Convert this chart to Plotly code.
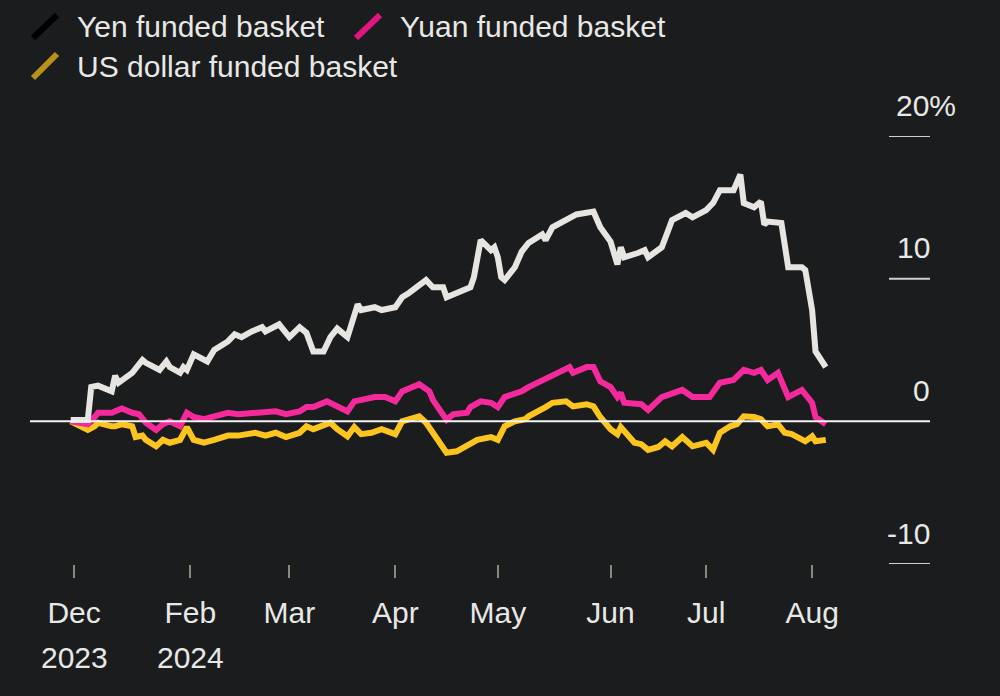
import plotly.graph_objects as go

# ---------------- data ----------------
yen_dates = [
    "2023-12-28", "2024-01-02", "2024-01-03", "2024-01-05", "2024-01-09", "2024-01-10",
    "2024-01-11", "2024-01-15", "2024-01-18", "2024-01-19", "2024-01-23", "2024-01-25",
    "2024-01-26", "2024-01-29", "2024-01-30", "2024-01-31", "2024-02-02", "2024-02-06",
    "2024-02-08", "2024-02-12", "2024-02-14", "2024-02-16", "2024-02-19", "2024-02-22",
    "2024-02-23", "2024-02-27", "2024-03-01", "2024-03-04", "2024-03-06", "2024-03-08",
    "2024-03-11", "2024-03-13", "2024-03-15", "2024-03-18", "2024-03-21", "2024-03-22",
    "2024-03-26", "2024-03-28", "2024-04-01", "2024-04-03", "2024-04-05", "2024-04-08",
    "2024-04-10", "2024-04-12", "2024-04-15", "2024-04-16", "2024-04-19", "2024-04-23",
    "2024-04-24", "2024-04-26", "2024-04-29", "2024-04-30", "2024-05-01", "2024-05-02",
    "2024-05-03", "2024-05-06", "2024-05-08", "2024-05-10", "2024-05-14", "2024-05-15",
    "2024-05-17", "2024-05-21", "2024-05-24", "2024-05-29", "2024-05-31", "2024-06-03",
    "2024-06-05", "2024-06-06", "2024-06-07", "2024-06-11", "2024-06-13", "2024-06-14",
    "2024-06-18", "2024-06-21", "2024-06-25", "2024-06-27", "2024-07-01", "2024-07-03",
    "2024-07-05", "2024-07-09", "2024-07-11", "2024-07-12", "2024-07-15", "2024-07-17",
    "2024-07-18", "2024-07-19", "2024-07-23", "2024-07-25", "2024-07-29", "2024-07-30",
    "2024-08-01", "2024-08-02", "2024-08-05",
]
yen_values = [
    0.1, 0.1, 2.4, 2.5, 2.1, 3.2,
    2.7, 3.4, 4.3, 4.1, 3.6, 4.2,
    3.8, 3.4, 3.8, 3.6, 4.7, 4.2,
    5.0, 5.6, 6.1, 5.9, 6.3, 6.6,
    6.3, 6.8, 5.9, 6.6, 6.2, 4.9,
    4.9, 5.9, 6.5, 5.9, 8.2, 7.8,
    8.0, 7.8, 8.0, 8.7, 9.0, 9.6,
    9.9, 9.4, 9.4, 8.7, 9.0, 9.4,
    10.1, 12.7, 12.0, 12.2, 11.5, 10.1,
    9.9, 10.8, 11.9, 12.5, 13.1, 12.7,
    13.6, 14.1, 14.5, 14.7, 13.6, 12.6,
    11.0, 12.2, 11.5, 11.8, 12.0, 11.5,
    12.2, 14.1, 14.6, 14.3, 14.8, 15.3,
    16.2, 16.2, 17.3, 15.3, 15.0, 15.4,
    13.8, 14.0, 13.9, 10.8, 10.8, 10.6,
    7.8, 4.9, 3.8,
]

yuan_dates = [
    "2023-12-28", "2024-01-02", "2024-01-04", "2024-01-05", "2024-01-09", "2024-01-11",
    "2024-01-12", "2024-01-15", "2024-01-17", "2024-01-19", "2024-01-22", "2024-01-24",
    "2024-01-26", "2024-01-29", "2024-01-31", "2024-02-02", "2024-02-05", "2024-02-08",
    "2024-02-12", "2024-02-15", "2024-02-20", "2024-02-23", "2024-02-26", "2024-02-29",
    "2024-03-04", "2024-03-06", "2024-03-08", "2024-03-12", "2024-03-15", "2024-03-18",
    "2024-03-20", "2024-03-22", "2024-03-26", "2024-03-29", "2024-04-01", "2024-04-03",
    "2024-04-08", "2024-04-11", "2024-04-12", "2024-04-16", "2024-04-18", "2024-04-22",
    "2024-04-23", "2024-04-26", "2024-04-29", "2024-05-01", "2024-05-03", "2024-05-08",
    "2024-05-10", "2024-05-16", "2024-05-20", "2024-05-22", "2024-05-23", "2024-05-27",
    "2024-05-29", "2024-05-31", "2024-06-03", "2024-06-05", "2024-06-06", "2024-06-07",
    "2024-06-12", "2024-06-14", "2024-06-18", "2024-06-24", "2024-06-27", "2024-07-02",
    "2024-07-05", "2024-07-09", "2024-07-12", "2024-07-15", "2024-07-17", "2024-07-19",
    "2024-07-22", "2024-07-25", "2024-07-29", "2024-07-31", "2024-08-01", "2024-08-02",
    "2024-08-05",
]
yuan_values = [
    0.0, -0.2, 0.3, 0.6, 0.6, 0.8,
    0.9, 0.6, 0.5, -0.1, -0.6, -0.2,
    0.0, -0.35, 0.6, 0.3, 0.15, 0.35,
    0.6, 0.5, 0.6, 0.6, 0.7, 0.5,
    0.7, 1.0, 1.0, 1.4, 1.0, 0.7,
    1.4, 1.5, 1.7, 1.7, 1.4, 2.1,
    2.6, 2.1, 1.5, 0.1, 0.5, 0.6,
    1.0, 1.4, 1.3, 1.0, 1.7, 2.1,
    2.4, 3.1, 3.6, 3.8, 3.4, 3.8,
    3.8, 2.8, 2.4, 1.7, 2.0, 1.3,
    1.2, 0.8, 1.7, 2.2, 1.7, 1.7,
    2.7, 2.9, 3.6, 3.4, 3.6, 2.9,
    3.4, 1.7, 2.2, 1.7, 1.3, 0.3,
    -0.2,
]

usd_dates = [
    "2023-12-28", "2024-01-02", "2024-01-04", "2024-01-05", "2024-01-09", "2024-01-10",
    "2024-01-12", "2024-01-15", "2024-01-16", "2024-01-18", "2024-01-19", "2024-01-22",
    "2024-01-24", "2024-01-26", "2024-01-29", "2024-01-31", "2024-02-02", "2024-02-05",
    "2024-02-08", "2024-02-12", "2024-02-15", "2024-02-20", "2024-02-23", "2024-02-26",
    "2024-02-29", "2024-03-04", "2024-03-06", "2024-03-08", "2024-03-13", "2024-03-15",
    "2024-03-18", "2024-03-20", "2024-03-22", "2024-03-25", "2024-03-28", "2024-04-01",
    "2024-04-03", "2024-04-08", "2024-04-10", "2024-04-12", "2024-04-16", "2024-04-19",
    "2024-04-22", "2024-04-25", "2024-04-29", "2024-05-01", "2024-05-03", "2024-05-06",
    "2024-05-09", "2024-05-10", "2024-05-15", "2024-05-17", "2024-05-21", "2024-05-23",
    "2024-05-27", "2024-05-29", "2024-05-31", "2024-06-03", "2024-06-05", "2024-06-06",
    "2024-06-10", "2024-06-12", "2024-06-14", "2024-06-17", "2024-06-19", "2024-06-21",
    "2024-06-24", "2024-06-27", "2024-07-01", "2024-07-03", "2024-07-05", "2024-07-08",
    "2024-07-10", "2024-07-12", "2024-07-15", "2024-07-17", "2024-07-19", "2024-07-22",
    "2024-07-24", "2024-07-26", "2024-07-30", "2024-08-01", "2024-08-02", "2024-08-05",
]
usd_values = [
    0.0, -0.6, -0.35, -0.1, -0.35, -0.35,
    -0.2, -0.35, -1.1, -1.0, -1.3, -1.75,
    -1.3, -1.5, -1.3, -0.4, -1.3, -1.5,
    -1.3, -1.0, -1.0, -0.8, -1.0, -0.8,
    -1.1, -0.8, -0.35, -0.55, -0.1, -0.55,
    -1.05, -0.4, -0.9, -0.8, -0.55, -0.9,
    0.0, 0.35, -0.1, -0.8, -2.2, -2.1,
    -1.75, -1.3, -1.1, -1.3, -0.35, 0.0,
    0.15, 0.35, 1.0, 1.3, 1.4, 1.05,
    1.2, 1.05, 0.3, -0.55, -0.9, -0.4,
    -1.5, -1.6, -2.0, -1.8, -1.4, -1.75,
    -1.1, -1.75, -1.5, -2.0, -0.8, -0.35,
    -0.2, 0.35, 0.3, 0.15, -0.35, -0.2,
    -0.8, -0.9, -1.4, -1.05, -1.4, -1.3,
]

series_names = ["Yen funded basket", "Yuan funded basket", "US dollar funded basket"]

x_tick_vals = ["2023-12-29", "2024-02-01", "2024-03-01", "2024-04-01",
               "2024-05-01", "2024-06-03", "2024-07-01", "2024-08-01"]
x_tick_text = ["Dec", "Feb", "Mar", "Apr", "May", "Jun", "Jul", "Aug"]
year_tick_vals = ["2023-12-29", "2024-02-01"]
year_tick_text = ["2023", "2024"]

y_tick_vals = [20, 10, 0, -10]
y_tick_text = ["20%", "10", "0", "-10"]

# ---------------- style ----------------
BG = "#1b1c1e"
TXT = "#e8e8e6"
WHITE_LINE = "#e6e5e1"
PINK = "#f42a9c"
YELLOW = "#fcc41f"
ICON_COLORS = ["#000000", "#e0167f", "#b8911c"]
FONT = "Liberation Sans, Arial, Helvetica, sans-serif"
FS = 30
LW = 6

W, H = 1000, 696
ML, MR, MT, MB = 30, 70, 136, 132
PW, PH = W - ML - MR, H - MT - MB


def pxx(px):
    return (px - ML) / PW


def pxy(py):
    return (H - MB - py) / PH


fig = go.Figure()
fig.add_trace(go.Scatter(x=usd_dates, y=usd_values, mode="lines", name=series_names[2],
                         line=dict(color=YELLOW, width=LW), showlegend=False))
fig.add_trace(go.Scatter(x=yuan_dates, y=yuan_values, mode="lines", name=series_names[1],
                         line=dict(color=PINK, width=LW), showlegend=False))
fig.add_trace(go.Scatter(x=yen_dates, y=yen_values, mode="lines", name=series_names[0],
                         line=dict(color=WHITE_LINE, width=LW), showlegend=False))

annotations = []
shapes = []

# zero line, drawn above the series
shapes.append(dict(type="line", xref="paper", yref="y", x0=0, x1=1, y0=0, y1=0,
                   line=dict(color="#f2f2f2", width=2), layer="above"))

# short tick lines at the right-hand side for the other y ticks
for v in y_tick_vals:
    if v != 0:
        shapes.append(dict(type="line", xref="paper", yref="y", x0=pxx(889), x1=1,
                           y0=v, y1=v, line=dict(color="#cfcfcd", width=2), layer="above"))

# y tick labels (sitting above the short tick lines)
for v, t in zip(y_tick_vals, y_tick_text):
    if t.endswith("%"):
        annotations.append(dict(x=pxx(894), xref="paper", y=v, yref="y", text=t,
                                showarrow=False, xanchor="left", yanchor="middle",
                                yshift=31, font=dict(size=FS, color=TXT, family=FONT)))
    else:
        annotations.append(dict(x=1, xref="paper", y=v, yref="y", text=t,
                                showarrow=False, xanchor="right", yanchor="middle",
                                yshift=31, xshift=2, font=dict(size=FS, color=TXT, family=FONT)))

# year line under the month labels
for v, t in zip(year_tick_vals, year_tick_text):
    annotations.append(dict(x=v, xref="x", y=pxy(657), yref="paper", text=t,
                            showarrow=False, xanchor="center", yanchor="middle",
                            font=dict(size=FS, color=TXT, family=FONT)))

# custom legend with slanted swatches
legend_items = [
    (series_names[0], ICON_COLORS[0], 33, 57, 38, 15, 75, 27),
    (series_names[1], ICON_COLORS[1], 356, 380, 38, 15, 398, 27),
    (series_names[2], ICON_COLORS[2], 33, 57, 78, 54, 75, 67),
]
for name, col, x0, x1, y0, y1, tx, ty in legend_items:
    shapes.append(dict(type="line", xref="paper", yref="paper",
                       x0=pxx(x0), x1=pxx(x1), y0=pxy(y0), y1=pxy(y1),
                       line=dict(color=col, width=6)))
    annotations.append(dict(x=pxx(tx), xref="paper", y=pxy(ty), yref="paper", text=name,
                            showarrow=False, xanchor="left", yanchor="middle",
                            font=dict(size=FS, color=TXT, family=FONT)))

fig.update_layout(
    width=W, height=H,
    margin=dict(l=ML, r=MR, t=MT, b=MB, pad=0),
    paper_bgcolor=BG, plot_bgcolor=BG,
    showlegend=False,
    hovermode=False,
    font=dict(family=FONT, size=FS, color=TXT),
    shapes=shapes,
    annotations=annotations,
    xaxis=dict(
        type="date",
        range=["2023-12-16 02:00", "2024-09-04 12:00"],
        tickvals=x_tick_vals, ticktext=x_tick_text,
        ticks="outside", ticklen=13, tickwidth=2, tickcolor="#8c877f",
        ticklabelstandoff=9,
        tickfont=dict(size=FS, color=TXT, family=FONT),
        showgrid=False, zeroline=False, showline=False,
    ),
    yaxis=dict(
        range=[-10, 20],
        showticklabels=False, ticks="",
        showgrid=False, zeroline=False, showline=False,
    ),
)

fig.write_html(
    "out.html",
    config={"displayModeBar": False, "staticPlot": True},
    post_script="document.body.style.margin='0';document.body.style.padding='0';"
                "document.body.style.overflow='hidden';"
                "document.body.style.background='" + BG + "';",
)
